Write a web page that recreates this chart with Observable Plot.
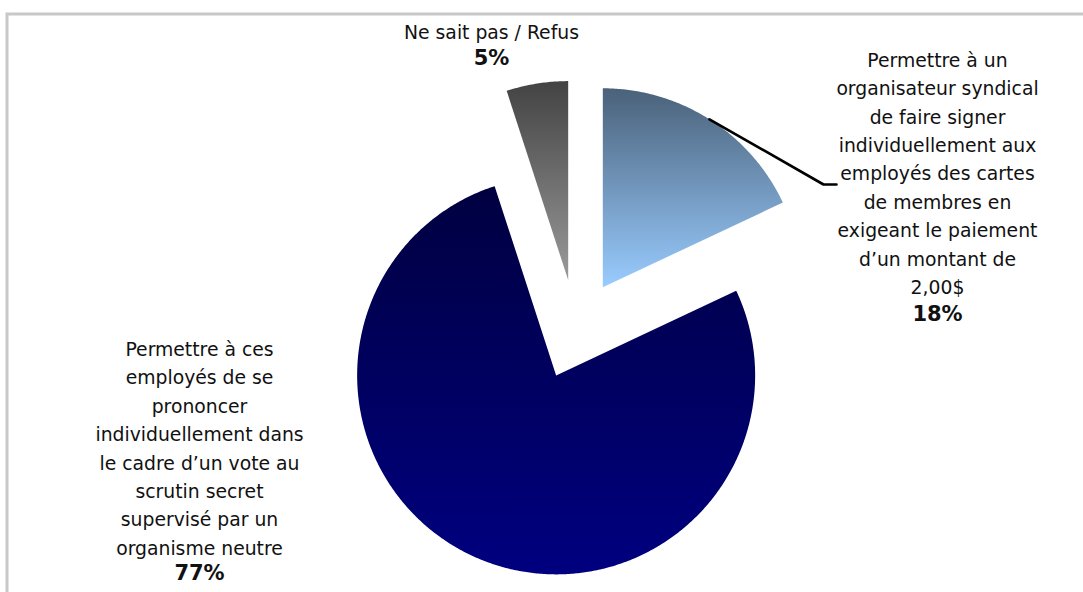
<!DOCTYPE html>
<html>
<head>
<meta charset="utf-8">
<script src="https://cdn.jsdelivr.net/npm/d3@7"></script>
<script src="https://cdn.jsdelivr.net/npm/@observablehq/plot@0.6"></script>
<style>
  html, body { margin: 0; padding: 0; background: #fff; overflow: hidden; }
  #chart svg { overflow: hidden; display: block; }
</style>
</head>
<body>
<div id="chart"></div>
<script>
// ---- DATA ----
const categories = [
  "Permettre à un organisateur syndical de faire signer individuellement aux employés des cartes de membres en exigeant le paiement d’un montant de 2,00$",
  "Permettre à ces employés de se prononcer individuellement dans le cadre d’un vote au scrutin secret supervisé par un organisme neutre",
  "Ne sait pas / Refus"
];
const values = [18, 77, 5];
const percentLabels = ["18%", "77%", "5%"];
const labelLines = [
  ["Permettre à un", "organisateur syndical", "de faire signer", "individuellement aux", "employés des cartes", "de membres en", "exigeant le paiement", "d’un montant de", "2,00$"],
  ["Permettre à ces", "employés de se", "prononcer", "individuellement dans", "le cadre d’un vote au", "scrutin secret", "supervisé par un", "organisme neutre"],
  ["Ne sait pas / Refus"]
];

// ---- LAYOUT / STYLE ----
const W = 1083, H = 592;
const pieGeom = {cx: 575.5, cy: 329, r: 199, explode: 50};
const gradients = [["#4a6179", "#99ccff"], ["#000040", "#000080"], ["#434343", "#9a9a9a"]];
const labelPos = [
  {x: 937, yText: 170.9, yPct: 313.3},
  {x: 199, yText: 445.8, yPct: 573},
  {x: 491, yText: 29, yPct: 58}
];
const fontSize = 18.8;
const pctFontSize = 21;
const lineStep = 28.4;
const leaderElbow = [823, 184], leaderEnd = [836, 184];

// ---- GEOMETRY FROM DATA ----
const arcs = d3.pie().sort(null).value(d => d)(values);
const slicePoints = arcs.map((a, i) => {
  const mid = (a.startAngle + a.endAngle) / 2;
  const ox = pieGeom.cx + pieGeom.explode * Math.sin(mid);
  const oy = pieGeom.cy - pieGeom.explode * Math.cos(mid);
  const pts = [{x: ox, y: oy}];
  const n = Math.max(4, Math.ceil((a.endAngle - a.startAngle) / (Math.PI / 360)));
  for (let k = 0; k <= n; k++) {
    const t = a.startAngle + (a.endAngle - a.startAngle) * k / n;
    pts.push({x: ox + pieGeom.r * Math.sin(t), y: oy - pieGeom.r * Math.cos(t)});
  }
  pts.push({x: ox, y: oy});
  return {pts, mid, ox, oy};
});

// leader line from the 18% slice
const s0 = slicePoints[0];
const leaderPts = [
  {x: s0.ox + pieGeom.r * Math.sin(s0.mid), y: s0.oy - pieGeom.r * Math.cos(s0.mid)},
  {x: leaderElbow[0], y: leaderElbow[1]},
  {x: leaderEnd[0], y: leaderEnd[1]}
];

const textData = labelLines.map((lines, i) => ({x: labelPos[i].x, y: labelPos[i].yText, text: lines.join("\n"), cat: categories[i]}));
const pctData = percentLabels.map((p, i) => ({x: labelPos[i].x, y: labelPos[i].yPct, text: p}));

const defsMark = () => {
  const defs = d3.create("svg:defs");
  gradients.forEach((g, i) => {
    const lg = defs.append("linearGradient").attr("id", "sliceGrad" + i)
      .attr("x1", 0).attr("y1", 0).attr("x2", 0).attr("y2", 1);
    lg.append("stop").attr("offset", "0%").attr("stop-color", g[0]);
    lg.append("stop").attr("offset", "100%").attr("stop-color", g[1]);
  });
  return defs.node();
};

const fontFamily = "Tahoma, 'DejaVu Sans', Verdana, sans-serif";

const chart = Plot.plot({
  width: W,
  height: H,
  margin: 0,
  x: {domain: [0, W], range: [0, W], axis: null},
  y: {domain: [0, H], range: [0, H], axis: null},
  style: {background: "#fff"},
  marks: [
    defsMark,
    Plot.frame({stroke: "#c8c8c8", strokeWidth: 3, insetLeft: 6.5, insetTop: 13.5, insetRight: -20, insetBottom: -20}),
    ...slicePoints.map((s, i) => Plot.line(s.pts, {x: "x", y: "y", fill: `url(#sliceGrad${i})`, stroke: "none"})),
    Plot.line(leaderPts, {x: "x", y: "y", stroke: "#000", strokeWidth: 2.6}),
    Plot.text(textData, {x: "x", y: "y", text: "text", fontSize, fontFamily, lineHeight: lineStep / fontSize, fill: "#111", title: "cat"}),
    Plot.text(pctData, {x: "x", y: "y", text: "text", fontSize: pctFontSize, fontFamily, fontWeight: "bold", fill: "#111"})
  ]
});
document.getElementById("chart").append(chart);
</script>
</body>
</html>
